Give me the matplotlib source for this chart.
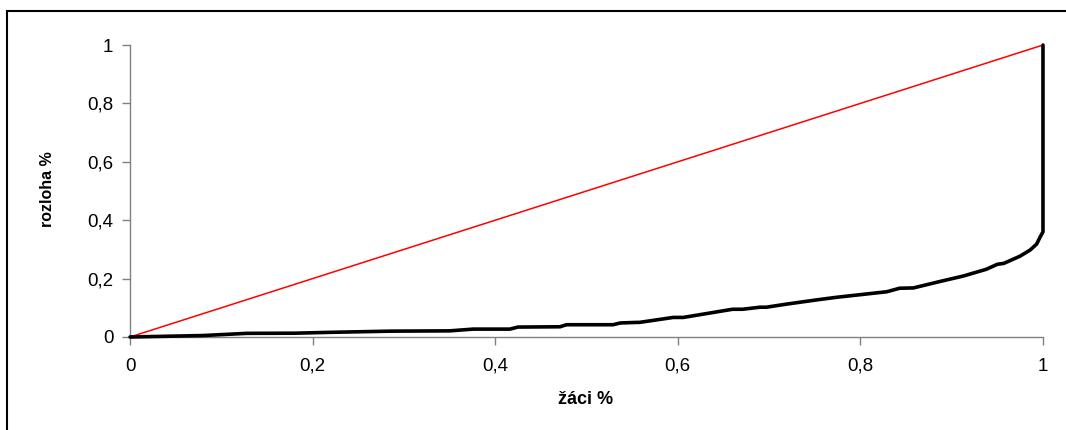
import matplotlib.pyplot as plt
from matplotlib.patches import Rectangle
from matplotlib.ticker import FuncFormatter

plt.rcParams['font.family'] = ['Liberation Sans', 'DejaVu Sans']

# Lorenz curve
share_students = [0.0, 0.08, 0.128, 0.18, 0.22, 0.285, 0.35, 0.376, 0.416, 0.425,
                  0.471, 0.478, 0.529, 0.537, 0.555, 0.558, 0.595, 0.606, 0.66,
                  0.671, 0.69, 0.697, 0.72, 0.752, 0.774, 0.829, 0.843, 0.858,
                  0.887, 0.913, 0.938, 0.95, 0.957, 0.975, 0.986, 0.993, 0.997,
                  1.0, 1.0]
share_area = [0.0, 0.005, 0.0125, 0.013, 0.016, 0.02, 0.021, 0.027, 0.027, 0.034,
              0.035, 0.042, 0.042, 0.048, 0.05, 0.05, 0.067, 0.067, 0.095,
              0.095, 0.102, 0.102, 0.113, 0.127, 0.136, 0.155, 0.167, 0.168,
              0.19, 0.209, 0.232, 0.249, 0.252, 0.277, 0.298, 0.318, 0.343,
              0.36, 1.0]
equality = [0.0, 1.0]
ticks = [0, 0.2, 0.4, 0.6, 0.8, 1]

fig = plt.figure(figsize=(10.66, 4.3), dpi=100)
ax = fig.add_axes([0.122, 0.2163, 0.8564, 0.679])

ax.plot(equality, equality, color='#ff0000', lw=1.1, zorder=2)
ax.plot(share_students, share_area, color='black', lw=2.6, zorder=3,
        solid_joinstyle='round', solid_capstyle='round', clip_on=False)

ax.set_xlim(0, 1)
ax.set_ylim(0, 1)
ax.set_xticks(ticks)
ax.set_yticks(ticks)
fmt = FuncFormatter(lambda v, p: ('%g' % v).replace('.', ','))
ax.xaxis.set_major_formatter(fmt)
ax.yaxis.set_major_formatter(fmt)
ax.tick_params(direction='out', length=6, width=1, color='#808080',
               labelsize=13.5)
ax.tick_params(axis='x', pad=9)
ax.tick_params(axis='y', pad=6)
for s in ['top', 'right']:
    ax.spines[s].set_visible(False)
for s in ['left', 'bottom']:
    ax.spines[s].set_color('#808080')
    ax.spines[s].set_linewidth(1)

fig.text(0.5497, 0.07, 'žáci %', ha='center', va='center',
         fontsize=13, fontweight='bold')
fig.text(0.045, 0.56, 'rozloha %', ha='center', va='center', rotation=90,
         fontsize=11.5, fontweight='bold')

# outer frame, cut off at right and bottom like the original
fig.patches.append(Rectangle((0.0066, -0.2), 2, 0.9744 + 0.2,
                             transform=fig.transFigure, fill=False,
                             edgecolor='black', lw=1.5))

fig.savefig('out.png', dpi=100)
